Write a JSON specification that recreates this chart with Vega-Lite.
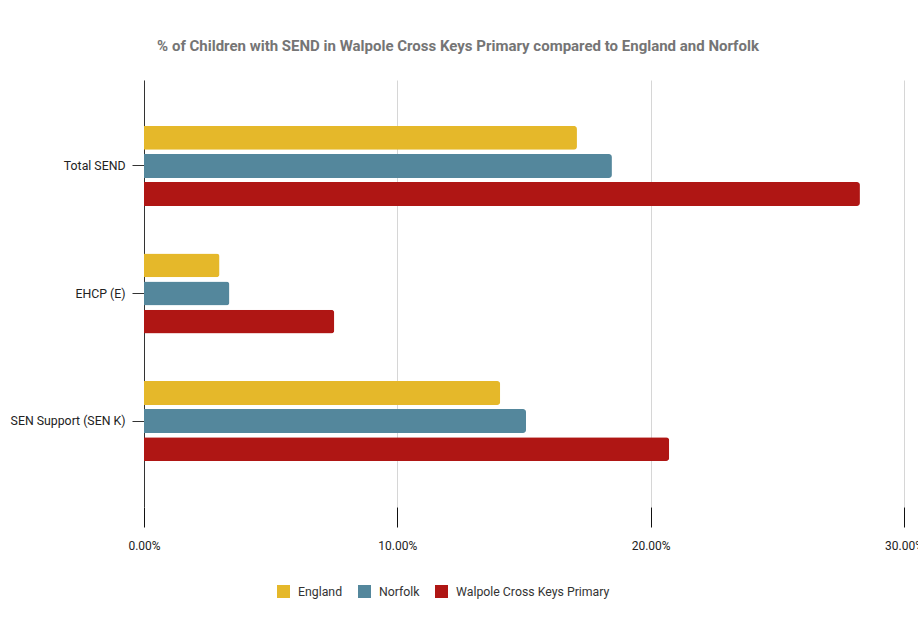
{
  "$schema": "https://vega.github.io/schema/vega-lite/v6.json",
  "autosize": {"type": "none"},
  "width": 760,
  "height": 427,
  "padding": {"left": 144, "top": 80, "right": 14, "bottom": 114},
  "background": "white",
  "title": {
    "text": "% of Children with SEND in Walpole Cross Keys Primary compared to England and Norfolk",
    "font": "Roboto",
    "fontSize": 15,
    "fontWeight": "bold",
    "color": "#757575",
    "anchor": "middle",
    "dx": -66,
    "offset": 26
  },
  "config": {
    "font": "Roboto",
    "view": {"stroke": null}
  },
  "data": {
    "values": [
      {"category": "Total SEND", "series": "England", "value": 0.1709},
      {"category": "Total SEND", "series": "Norfolk", "value": 0.1847},
      {"category": "Total SEND", "series": "Walpole Cross Keys Primary", "value": 0.2826},
      {"category": "EHCP (E)", "series": "England", "value": 0.0298},
      {"category": "EHCP (E)", "series": "Norfolk", "value": 0.0337},
      {"category": "EHCP (E)", "series": "Walpole Cross Keys Primary", "value": 0.0751},
      {"category": "SEN Support (SEN K)", "series": "England", "value": 0.1406},
      {"category": "SEN Support (SEN K)", "series": "Norfolk", "value": 0.1508},
      {"category": "SEN Support (SEN K)", "series": "Walpole Cross Keys Primary", "value": 0.2073}
    ]
  },
  "mark": {"type": "bar", "cornerRadiusEnd": 3},
  "encoding": {
    "y": {
      "field": "category",
      "type": "nominal",
      "sort": ["Total SEND", "EHCP (E)", "SEN Support (SEN K)"],
      "scale": {"paddingInner": 0.3725, "paddingOuter": 0.36},
      "axis": {
        "title": null,
        "domainColor": "#333333",
        "domainWidth": 1,
        "tickColor": "#333333",
        "tickSize": 12,
        "labelPadding": 7,
        "labelFontSize": 12.3,
        "labelColor": "#222222",
        "labelLimit": 0,
        "labelFont": "Roboto"
      }
    },
    "yOffset": {
      "field": "series",
      "type": "nominal",
      "sort": ["England", "Norfolk", "Walpole Cross Keys Primary"],
      "scale": {"paddingInner": 0.15, "paddingOuter": 0}
    },
    "x": {
      "field": "value",
      "type": "quantitative",
      "scale": {"domain": [0, 0.3], "nice": false, "zero": true},
      "axis": {
        "title": null,
        "format": ".2%",
        "values": [0, 0.1, 0.2, 0.3],
        "domain": false,
        "grid": true,
        "gridColor": "#d6d6d6",
        "tickColor": "#111111",
        "tickSize": 20,
        "labelPadding": 13,
        "labelFlush": false,
        "labelFontSize": 12,
        "labelColor": "#222222",
        "labelFont": "Roboto"
      }
    },
    "color": {
      "field": "series",
      "type": "nominal",
      "scale": {
        "domain": ["England", "Norfolk", "Walpole Cross Keys Primary"],
        "range": ["#E5B82A", "#54879C", "#AF1614"]
      },
      "legend": {
        "title": null,
        "orient": "none",
        "direction": "horizontal",
        "legendX": 133,
        "legendY": 505,
        "symbolType": "square",
        "symbolSize": 169,
        "symbolStrokeWidth": 0,
        "symbolOpacity": 1,
        "labelOffset": 8,
        "columnPadding": 15,
        "labelLimit": 0,
        "labelFontSize": 12.3,
        "labelColor": "#333333",
        "labelFont": "Roboto"
      }
    }
  }
}
